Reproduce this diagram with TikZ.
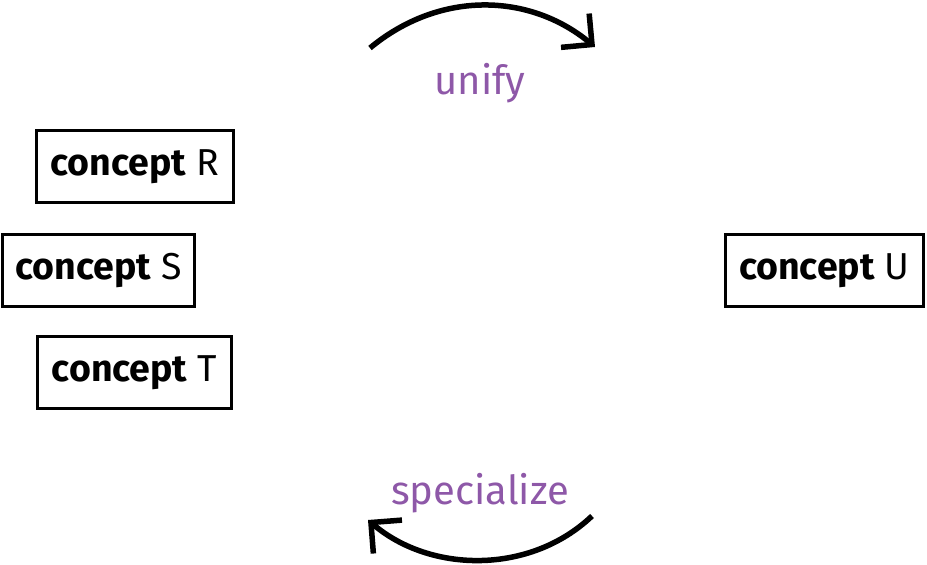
\documentclass[tikz,border=0pt]{standalone}
\usepackage{fontspec}
\setmainfont{Fira Sans}
\usetikzlibrary{arrows.meta}
\definecolor{opcol}{RGB}{142,88,168}
\tikzset{
  concept/.style={draw=black,line width=2.2pt,minimum height=72pt,inner sep=0pt,font=\fontsize{37.5}{44}\selectfont},
  oplabel/.style={text=opcol,font=\fontsize{40}{46}\selectfont,inner sep=0pt},
  oparrow/.style={line width=5.5pt,-{Straight Barb[length=22pt,width=44pt,line cap=butt,line join=miter]}}
}
\begin{document}
\begin{tikzpicture}[x=1pt,y=1pt]
\useasboundingbox (0,0) rectangle (927,565);
\node[concept,minimum width=197pt] (R) at (135,398.5) {\textbf{concept} R};
\node[concept,minimum width=192pt] (S) at (98.5,294.5) {\textbf{concept} S};
\node[concept,minimum width=194pt] (T) at (134.5,192.5) {\textbf{concept} T};
\node[concept,minimum width=198pt] (U) at (824.5,294.5) {\textbf{concept} U};
\node[oplabel] (unify) at (480,482) {unify};
\node[oplabel] (spec) at (480,72) {specialize};
\coordinate (ua) at (370,517);
\coordinate (ub) at (595,518);
\coordinate (sa) at (592,49);
\coordinate (sb) at (368,45);
\draw[oparrow] (ua) .. controls (440,575) and (530,572) .. (ub);
\draw[oparrow] (sa) .. controls (530,-10) and (430,-8) .. (sb);
\end{tikzpicture}
\end{document}
